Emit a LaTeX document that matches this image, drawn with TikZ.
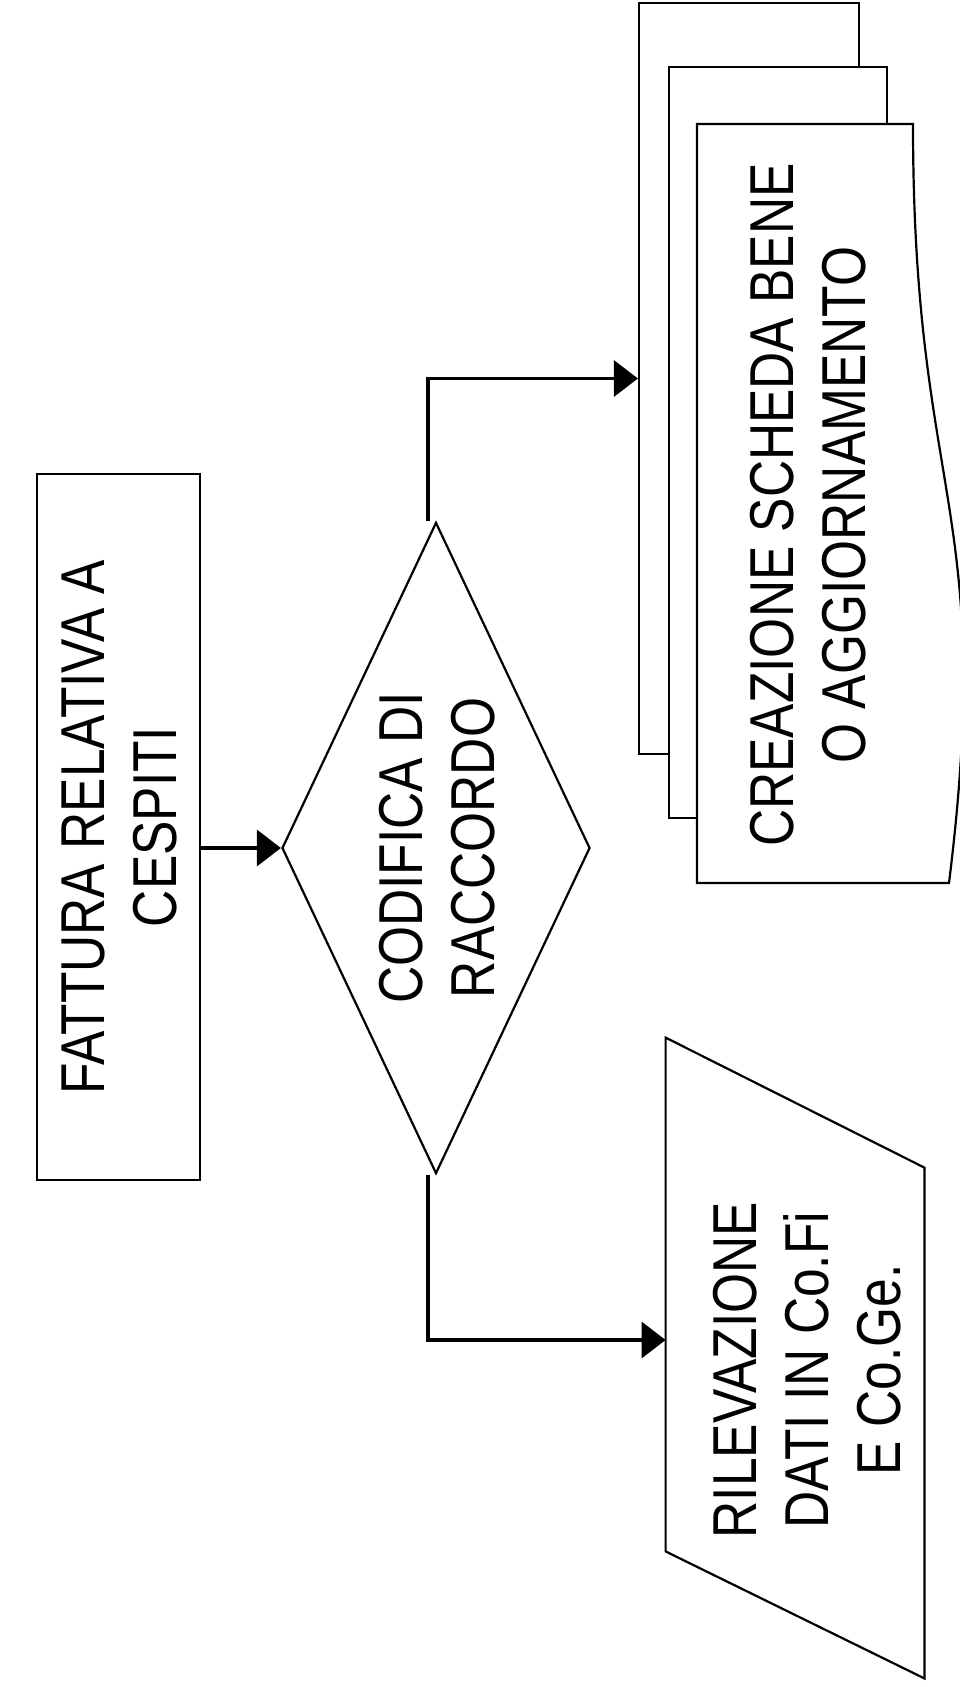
\documentclass[tikz,border=0pt]{standalone}
\usepackage{fontspec}
\setmainfont[FakeStretch=0.83]{Liberation Sans}
\usepackage{graphicx}
\usetikzlibrary{shapes.geometric,arrows.meta}
\newcommand{\uplabel}[1]{\rotatebox{90}{\begin{tabular}{@{}c@{}}\rule{0pt}{33pt}#1\end{tabular}}}
\tikzset{
    flow-box/.style = {draw, fill=white, line width=1.1pt, rectangle, inner sep=0pt, font=\fontsize{31}{36}\selectfont},
    flow-decision/.style = {draw, fill=white, line width=1.1pt, diamond, shape aspect=0.47, inner sep=0pt, font=\fontsize{31}{36}\selectfont},
    flow-text/.style = {inner sep=0pt, font=\fontsize{31}{36}\selectfont},
    flow-line/.style = {line width=1.1pt},
    flow-arrow/.style = {line width=1.7pt, -{Triangle[length=12pt, width=18pt]}},
}

\begin{document}
\begin{tikzpicture}[x=0.5pt, y=-0.5pt]
\useasboundingbox (0,0) rectangle (959,1687);
\node [flow-box, minimum width=81.5pt, minimum height=353pt] (fattura) at (118.5,827) {\uplabel{FATTURA RELATIVA A\\CESPITI}};
\node [flow-decision, minimum width=154pt, minimum height=324pt] (codifica) at (436,848) {\uplabel{CODIFICA DI\\RACCORDO}};
\node [flow-box, minimum width=110pt, minimum height=375.5pt] (scheda-back) at (749,378.5) {};
\node [flow-box, minimum width=109pt, minimum height=375.5pt] (scheda-mid) at (778,442.5) {};
\draw [flow-line, fill=white] (697,124) -- (913,124) .. controls (913,503.5) and (996,503.5) .. (949,883) -- (697,883) -- cycle;
\node [flow-text] (scheda) at (807,505) {\uplabel{CREAZIONE SCHEDA BENE\\O AGGIORNAMENTO}};
\node [flow-text, minimum width=129pt, minimum height=320pt] (rilevazione-box) at (795,1358) {};
\draw [flow-line] (rilevazione-box.north west) -- ([yshift=-65pt]rilevazione-box.north east) -- (rilevazione-box.south east) -- ([yshift=63.5pt]rilevazione-box.south west) -- cycle;
\node [flow-text] (rilevazione) at (806,1370) {\uplabel{RILEVAZIONE\\DATI IN Co.Fi\\E Co.Ge.}};

\draw [flow-arrow] (fattura.east |- codifica.west) -- (codifica.west);
\draw [flow-arrow] ([xshift=-4pt]codifica.north) |- (scheda-back.west);
\draw [flow-arrow] ([xshift=-4pt]codifica.south) |- ([yshift=9pt]rilevazione-box.west);
\end{tikzpicture}
\end{document}
